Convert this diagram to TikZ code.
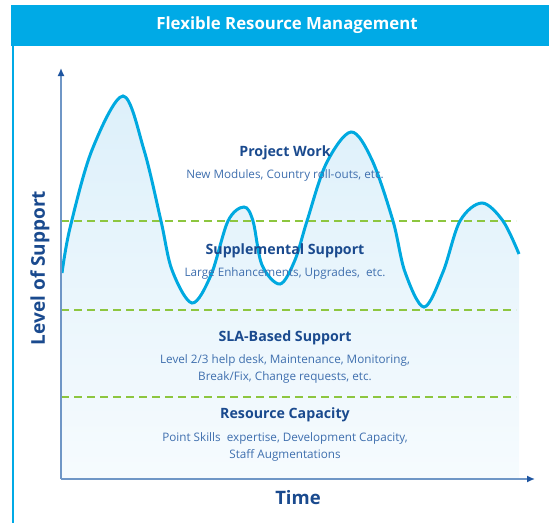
\documentclass[tikz,border=0pt]{standalone}
\usepackage{fontspec}
\setmainfont{Open Sans}
\usepackage{tikz}
\usetikzlibrary{arrows.meta}

\definecolor{hdrblue}{RGB}{0,170,230}
\definecolor{wave}{RGB}{0,169,224}
\definecolor{lvlgreen}{RGB}{141,198,63}
\definecolor{axisblue}{RGB}{111,150,198}
\definecolor{tipblue}{RGB}{30,85,160}
\definecolor{darkblue}{RGB}{26,74,142}
\definecolor{midblue}{RGB}{63,111,174}
\definecolor{filltop}{RGB}{221,240,250}
\definecolor{fillbot}{RGB}{246,251,254}

\begin{document}
\begin{tikzpicture}
		[x=1pt,y=-1pt,
		 hd/.style={font=\fontsize{14.2}{16}\selectfont\bfseries,text=darkblue,inner sep=0pt},
		 sub/.style={font=\fontsize{11.7}{17}\selectfont,text=midblue,align=center,inner sep=0pt},
		 lvl/.style={draw=lvlgreen,line width=2.4pt,dash pattern=on 8pt off 5pt},
		 ax/.style={draw=axisblue,line width=1.5pt,-{Latex[length=8pt,width=7pt,color=tipblue]}}]

		\useasboundingbox (0,0) rectangle (549,523);

		% frame and title
		\fill[hdrblue] (11,5) rectangle (549,46);
		\draw[hdrblue,line width=2pt] (12.5,46) -- (12.5,523);
		\node[font=\fontsize{16.8}{18}\selectfont\bfseries,text=white] (title) at (287,25.5)
			{Flexible Resource Management};

		\coordinate (o) at (61,479);
		\coordinate (ytop) at (61,68);
		\coordinate (xend) at (535,479);

		% area under the curve
		\shade[top color=filltop,bottom color=fillbot]
			plot[smooth,tension=0.55] coordinates {
				(62,273) (70,228) (92,150) (123,96) (144,150) (161,221)
				(172,270) (192,303) (211,275) (228,221) (244,207) (253,221) (262,265)
				(280,284) (295,260) (307,221) (326,164) (351,132) (372,160) (393,221)
				(405,272) (424,307) (443,272) (460,221) (482,203) (503,221) (519,254)}
			-- (519,479) -- (62,479) -- cycle;

		% levels
		\coordinate (l1a) at (61,221);  \coordinate (l1b) at (516,221);
		\coordinate (l2a) at (61,310);  \coordinate (l2b) at (516,310);
		\coordinate (l3a) at (61,397);  \coordinate (l3b) at (516,397);
		\draw[lvl] (l1a) -- (l1b);
		\draw[lvl] (l2a) -- (l2b);
		\draw[lvl] (l3a) -- (l3b);

		% demand curve
		\draw[wave,line width=3pt]
			plot[smooth,tension=0.55] coordinates {
				(62,273) (70,228) (92,150) (123,96) (144,150) (161,221)
				(172,270) (192,303) (211,275) (228,221) (244,207) (253,221) (262,265)
				(280,284) (295,260) (307,221) (326,164) (351,132) (372,160) (393,221)
				(405,272) (424,307) (443,272) (460,221) (482,203) (503,221) (519,254)};

		% axes
		\draw[ax] (o) -- (ytop);
		\draw[ax] (o) -- (xend);

		\node[font=\fontsize{18.5}{20}\selectfont\bfseries,text=darkblue] (xlab) at (298,498) {Time};
		\node[font=\fontsize{19}{21}\selectfont\bfseries,text=darkblue,rotate=90] (ylab) at (40,268)
			{Level of Support};

		% texts
		\node[hd] (pw) at (285,153) {Project Work};
		\node[sub] (pwt) at (285,175) {New Modules, Country roll-outs, etc.};

		\node[hd] (ss) at (285,251) {Supplemental Support};
		\node[sub] (sst) at (285,273) {Large Enhancements, Upgrades,\ \ etc.};

		\node[hd] (sla) at (285,338) {SLA-Based Support};
		\node[sub] (slat) at (285,368.5) {Level 2/3 help desk, Maintenance, Monitoring,\\
			Break/Fix, Change requests, etc.};

		\node[hd] (rc) at (285,415) {Resource Capacity};
		\node[sub] (rct) at (285,446.5) {Point Skills\ \ expertise, Development Capacity,\\
			Staff Augmentations};

	\end{tikzpicture}
\end{document}
